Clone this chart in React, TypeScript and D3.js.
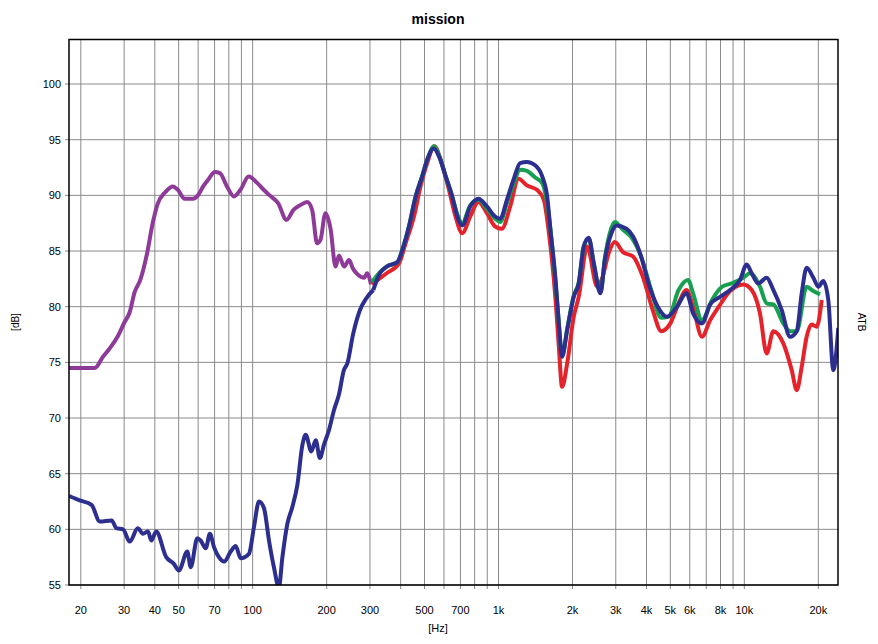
import * as d3 from "d3";

// chart text
const title = "mission";
const xUnit = "[Hz]";
const yUnit = "[dB]";
const sideLabel = "ATB";

// axes
const gridFreqs = [
  20, 30, 40, 50, 60, 70, 80, 90, 100, 200, 300, 400, 500, 600, 700, 800, 900,
  1000, 2000, 3000, 4000, 5000, 6000, 7000, 8000, 9000, 10000, 20000,
];
const labelFreqs = [
  20, 30, 40, 50, 70, 100, 200, 300, 500, 700, 1000, 2000, 3000, 4000, 5000,
  6000, 8000, 10000, 20000,
];
const dbTicks = [55, 60, 65, 70, 75, 80, 85, 90, 95, 100];

// [frequency Hz, level dB]
const wooferUpper: [number, number][] = [
  [17.9, 74.5], [20, 74.5], [22.8, 74.5], [24.6, 75.5], [26.1, 76.2],
  [28.2, 77.3], [30.1, 78.6], [31.6, 79.5], [33.1, 81.3], [34.9, 82.4],
  [37.2, 84.8], [39.2, 87.5], [41, 89.2], [44.2, 90.3], [47.3, 90.8],
  [49.6, 90.5], [52.9, 89.7], [57.2, 89.7], [59.9, 90.0], [62.9, 90.8],
  [65.9, 91.4], [70.1, 92.1], [73.6, 92.0], [78.6, 90.8], [83.9, 89.9],
  [89.2, 90.5], [96.3, 91.7], [104.5, 91.1], [110.8, 90.5], [117.3, 90.0],
  [126.9, 89.3], [137.3, 87.8], [146.6, 88.7], [155.8, 89.1], [166.6, 89.4],
  [174.5, 88.7], [182.8, 85.7], [188.7, 86.0], [197.7, 88.4], [207.4, 87.0],
  [217.3, 83.6], [224.6, 84.6], [235.4, 83.6], [246.7, 84.2], [256, 83.4],
  [267.1, 82.9], [284.5, 82.6], [292, 83.0], [302.9, 82.0],
];

const wooferLower: [number, number][] = [
  [17.9, 63.0], [19.8, 62.6], [22.1, 62.2], [23.9, 60.7], [26.7, 60.8],
  [27.9, 60.1], [29.7, 60.0], [31.6, 58.9], [34.1, 60.1], [35.8, 59.6],
  [37.5, 59.8], [38.7, 59.0], [40.5, 59.8], [44.5, 57.5], [47.8, 56.9],
  [50.1, 56.3], [54.2, 58.0], [56.0, 56.6], [59.5, 59.2], [61.4, 59.0],
  [64.4, 58.3], [67.0, 59.6], [69.6, 58.4], [72.9, 57.5], [76.5, 57.1],
  [81.4, 58.0], [85.3, 58.5], [89.4, 57.4], [96.6, 57.8], [101.2, 60.2],
  [106.1, 62.5], [111.2, 61.9], [116.5, 59.0], [122.0, 56.6], [127.9, 54.8],
  [132.1, 57.5], [138.4, 60.5], [145.0, 62.0], [152.0, 64.0], [159.4, 67.6],
  [164.3, 68.5], [173.3, 67.0], [180.5, 68.0], [187.7, 66.4], [195.0, 67.6],
  [204.3, 68.9], [214.1, 70.7], [224.3, 72.1], [235.0, 74.3], [242.7, 74.9],
  [256.6, 77.6], [273.2, 79.7], [290.8, 80.8], [309.5, 81.5],
];

const blueUpper: [number, number][] = [
  [309.5, 81.5], [329.5, 83.0], [350.7, 83.6], [387.7, 84.0], [406.4, 85.1],
  [432.3, 87.2], [460.4, 89.9], [489.3, 91.7], [512.8, 93.2], [545.3, 94.2],
  [572.6, 93.5], [609.7, 91.7], [648.5, 89.9], [679.7, 88.1], [712.4, 87.3],
  [767.4, 89.0], [829.2, 89.7], [897.3, 89.0], [969.5, 88.1], [1016, 87.9],
  [1082, 89.6], [1151, 91.4], [1225, 92.9], [1305, 93.0], [1410, 92.7],
  [1506, 91.7], [1578, 89.9], [1627, 86.9], [1707, 82.4], [1760, 78.5],
  [1814, 75.5], [1903, 77.9], [2024, 80.9], [2121, 82.1], [2222, 85.4],
  [2329, 86.2], [2441, 83.9], [2600, 81.2], [2707, 84.2], [2880, 86.6],
  [3020, 87.3], [3315, 87.0], [3528, 86.3], [3804, 84.5], [4114, 81.8],
  [4444, 80.0], [4847, 79.1], [5324, 80.0], [5817, 81.2], [6189, 79.4],
  [6723, 78.5], [7268, 80.2], [8000, 80.9], [8751, 81.5], [9606, 82.4],
  [10227, 83.8], [10717, 83.0], [11400, 82.1], [12330, 82.6], [13120, 81.5],
  [14190, 79.7], [15350, 77.3], [16340, 77.8], [17120, 81.2], [17930, 83.5],
  [19090, 82.6], [20000, 81.8], [20960, 82.3], [21960, 80.6], [23020, 74.3],
  [24120, 78.1],
];

const redUpper: [number, number][] = [
  [305.7, 82.0], [350.7, 83.0], [394, 83.9], [419, 85.7], [453, 88.1],
  [481.6, 90.8], [512.8, 92.9], [549, 94.4], [581.7, 93.2], [628.7, 90.5],
  [668.9, 88.1], [712.4, 86.6], [767.4, 88.1], [829.2, 89.4], [897.3, 88.4],
  [969.5, 87.2], [1032, 87.0], [1116, 89.0], [1206, 91.5], [1305, 90.9],
  [1433, 90.5], [1529, 89.6], [1604, 86.6], [1707, 80.6], [1760, 76.4],
  [1814, 72.8], [1903, 74.9], [2024, 79.1], [2121, 80.9], [2295, 85.4],
  [2520, 81.8], [2624, 82.4], [2836, 85.1], [2972, 85.8], [3210, 84.9],
  [3528, 84.5], [3863, 82.7], [4242, 79.7], [4590, 77.8], [5000, 78.5],
  [5403, 80.3], [5817, 81.5], [6189, 80.0], [6723, 77.3], [7268, 78.8],
  [7873, 80.0], [8751, 81.4], [9907, 82.0], [10717, 81.5], [11580, 79.4],
  [12330, 75.8], [13120, 77.8], [14410, 76.7], [15590, 74.3], [16340, 72.5],
  [17120, 74.6], [17930, 77.3], [18790, 78.4], [19700, 78.2], [20650, 80.6],
];

const greenUpper: [number, number][] = [
  [305.7, 82.2], [329.5, 83.1], [350.7, 83.6], [388, 84.0], [406, 85.1],
  [432, 87.2], [460, 89.9], [489, 91.7], [513, 93.2], [547, 94.4],
  [573, 93.6], [610, 91.7], [648, 89.9], [680, 88.3], [712, 87.5],
  [767, 89.1], [829, 89.6], [897, 88.8], [970, 87.9], [1016, 87.6],
  [1082, 89.3], [1151, 91.0], [1225, 92.3], [1305, 92.2], [1410, 91.6],
  [1506, 91.1], [1604, 88.1], [1707, 82.1], [1760, 78.5], [1814, 75.6],
  [1903, 78.0], [2024, 81.0], [2121, 82.2], [2222, 85.4], [2329, 86.1],
  [2441, 83.9], [2600, 81.3], [2707, 84.3], [2836, 86.6], [2972, 87.6],
  [3210, 86.9], [3452, 86.3], [3804, 84.5], [4180, 81.5], [4590, 79.0],
  [4921, 79.1], [5403, 81.5], [5905, 82.4], [6189, 81.2], [6723, 78.8],
  [7385, 80.6], [8128, 81.8], [8891, 82.1], [9907, 82.6], [10550, 83.0],
  [11580, 81.8], [12330, 80.3], [13120, 80.2], [14410, 78.5], [15350, 77.8],
  [16340, 77.8], [17930, 81.8], [19090, 81.4], [20320, 81.1],
];

const series = [
  { name: "woofer", data: wooferUpper, color: "#8e3a98" },
  { name: "wooferLow", data: wooferLower, color: "#2c2f8e" },
  { name: "red", data: redUpper, color: "#e5232b" },
  { name: "green", data: greenUpper, color: "#17a04f" },
  { name: "blue", data: blueUpper, color: "#2c2f8e" },
];

const App = () => {
  const width = 878;
  const height = 644;
  const marginLeft = 69;
  const marginRight = 40;
  const marginTop = 39.5;
  const marginBottom = 59;

  const x = d3.scaleLog([17.9, 24050], [marginLeft, width - marginRight]);
  const y = d3.scaleLinear([55, 104], [height - marginBottom, marginTop]);
  const line = d3
    .line<[number, number]>((d) => x(d[0]), (d) => y(d[1]))
    .curve(d3.curveMonotoneX);

  const fmt = (f: number) => (f >= 1000 ? f / 1000 + "k" : String(f));
  const font = "Arial, 'Liberation Sans', sans-serif";

  return (
    <svg
      width={width}
      height={height}
      style={{ position: "absolute", left: 0, top: 0, background: "#fff" }}
      fontFamily={font}
    >
      <defs>
        <clipPath id='plot'>
          <rect
            x={marginLeft}
            y={marginTop}
            width={width - marginRight - marginLeft}
            height={height - marginBottom - marginTop}
          />
        </clipPath>
      </defs>
      <text x={438} y={24} textAnchor='middle' fontSize={14} fontWeight='bold'>
        {title}
      </text>
      <g stroke='#8a8a8a' strokeWidth={1}>
        {gridFreqs.map((f) => (
          <line
            key={f}
            x1={x(f)}
            x2={x(f)}
            y1={marginTop}
            y2={height - marginBottom + 4}
          />
        ))}
        {dbTicks.map((v) => (
          <line
            key={v}
            x1={marginLeft - 4}
            x2={width - marginRight}
            y1={y(v)}
            y2={y(v)}
          />
        ))}
      </g>
      <g fontSize={11} fill='#000'>
        {labelFreqs.map((f) => (
          <text key={f} x={x(f)} y={614} textAnchor='middle'>
            {fmt(f)}
          </text>
        ))}
        {dbTicks.map((v) => (
          <text key={v} x={61} y={y(v) + 4} textAnchor='end'>
            {v}
          </text>
        ))}
        <text x={438} y={632} textAnchor='middle'>
          {xUnit}
        </text>
        <text
          transform={`translate(19,${322}) rotate(-90)`}
          textAnchor='middle'
          fontSize={10}
        >
          {yUnit}
        </text>
        <text
          transform={`translate(858,${322}) rotate(90)`}
          textAnchor='middle'
          fontSize={10}
        >
          {sideLabel}
        </text>
      </g>
      <g clipPath='url(#plot)' fill='none' strokeWidth={4} strokeLinejoin='round'>
        {series.map((s) => (
          <path key={s.name} d={line(s.data)!} stroke={s.color} />
        ))}
      </g>
      <rect
        x={marginLeft}
        y={marginTop}
        width={width - marginRight - marginLeft}
        height={height - marginBottom - marginTop}
        fill='none'
        stroke='#000'
        strokeWidth={1.5}
      />
    </svg>
  );
};

export default App;
